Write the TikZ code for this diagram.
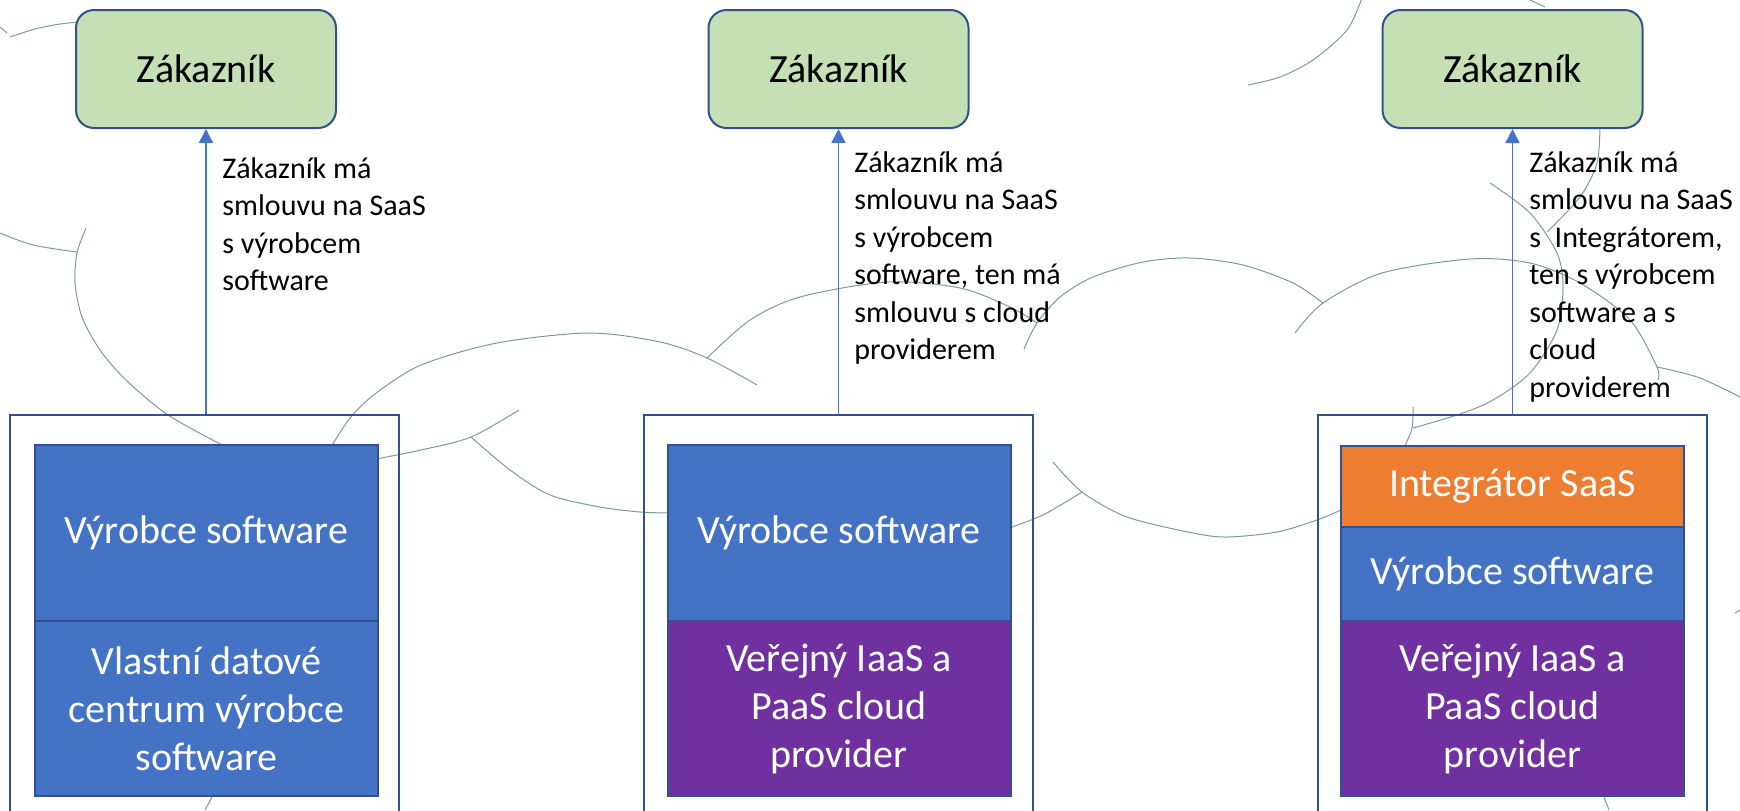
\documentclass[tikz,border=0pt]{standalone}
\usepackage{fontspec}
\setmainfont{Carlito}
\usetikzlibrary{arrows.meta}
\definecolor{custfill}{HTML}{C5E0B4}
\definecolor{edgeblue}{HTML}{2F528F}
\definecolor{accblue}{HTML}{4472C4}
\definecolor{purp}{HTML}{7030A0}
\definecolor{orng}{HTML}{ED7D31}
\definecolor{cloudc}{RGB}{120,155,160}
\begin{document}
\begin{tikzpicture}[x=0.5pt,y=-0.5pt,
  cloudline/.style={draw=cloudc, line width=0.5pt},
  cust/.style={draw=edgeblue, line width=1pt, fill=custfill, rounded corners=9pt,
    minimum width=130pt, minimum height=59pt, inner sep=0pt, font=\fontsize{20}{24}\selectfont},
  frame/.style={draw=edgeblue, line width=1pt, minimum width=194.5pt, minimum height=215pt, inner sep=0pt},
  layer/.style={draw=edgeblue, line width=1pt, text=white, inner sep=0pt, minimum width=171.5pt,
    align=center, font=\fontsize{20}{24}\selectfont},
  swbox/.style={layer, fill=accblue},
  iaasbox/.style={layer, fill=purp},
  integbox/.style={layer, fill=orng},
  link/.style={draw=accblue, line width=0.75pt, -{Triangle[length=7pt,width=7pt]}},
  lbl/.style={anchor=base west, inner sep=0pt, font=\fontsize{15}{18.75}\selectfont, text=black}
]
\useasboundingbox (0,0) rectangle (1740,810);
\clip (0,0) rectangle (1740,810);

% cloud outlines (background)
\draw[cloudline] (0,27) -- (7,33);
\draw[cloudline] plot[smooth] coordinates {(10,37) (35,29) (60,24) (80,22)};
\draw[cloudline] plot[smooth] coordinates {(0,233) (33,245) (77,252)};
\draw[cloudline] plot[smooth] coordinates {(86,228) (77,253) (75,283) (82,317) (100,350) (126,380) (168,415) (226,447)};
\draw[cloudline] plot[smooth] coordinates {(331,447) (350,418) (375,394) (421,365) (497,343) (589,333) (660,342) (707,358) (757,385)};
\draw[cloudline] plot[smooth] coordinates {(707,358) (750,320) (800,297) (887,282) (960,288) (1010,307) (1037,323)};
\draw[cloudline] plot[smooth] coordinates {(1024,349) (1037,323) (1060,297) (1093,277) (1143,262) (1190,258) (1243,265) (1293,283) (1323,303)};
\draw[cloudline] plot[smooth] coordinates {(1295,333) (1323,303) (1382,273) (1470,259) (1530,263) (1580,283) (1630,320) (1657,367) (1658,380)};
\draw[cloudline] plot[smooth] coordinates {(1657,367) (1700,378) (1750,402)};
\draw[cloudline] plot[smooth] coordinates {(1362,-2) (1347,30) (1313,60) (1280,77) (1248,85)};
\draw[cloudline] (1530,0) -- (1545,7);
\draw[cloudline] plot[smooth] coordinates {(1600,125) (1597,163) (1580,197) (1547,232)};
\draw[cloudline] plot[smooth] coordinates {(1490,183) (1530,213) (1557,253) (1563,287) (1557,330) (1530,373) (1493,400) (1460,414) (1413,428)};
\draw[cloudline] plot[smooth] coordinates {(1413,407) (1412,428) (1404,448)};
\draw[cloudline] plot[smooth] coordinates {(376,459) (421,450) (471,437) (519,410)};
\draw[cloudline] plot[smooth] coordinates {(471,437) (510,470) (550,495) (600,507) (640,512) (669,513)};
\draw[cloudline] plot[smooth] coordinates {(1053,462) (1082,492) (1127,517) (1193,533) (1227,537) (1277,532) (1317,520) (1343,509)};
\draw[cloudline] plot[smooth] coordinates {(1009,528) (1043,515) (1082,492)};
\draw[cloudline] (212,797) -- (205,810);
\draw[cloudline] (1604,797) -- (1609,810);
\draw[cloudline] (1735,613) -- (1740,610);

% outer frames
\node[frame] (f1) at (204.5,630) {};
\node[frame] (f2) at (838.5,630) {};
\node[frame] (f3) at (1512,630) {};

% column 1
\node[swbox, minimum height=88pt] (s1) at (206.5,533) {Výrobce software};
\node[swbox, minimum height=87.5pt] (d1) at (206.5,708.5) {Vlastní datové\\centrum výrobce\\software};
% column 2
\node[swbox, minimum height=88pt] (s2) at (839,533) {Výrobce software};
\node[iaasbox, minimum height=87.5pt] (p2) at (839,708.5) {Veřejný IaaS a\\PaaS cloud\\provider};
% column 3
\node[integbox, minimum height=40.5pt] (i3) at (1512.5,486.5) {Integrátor SaaS};
\node[swbox, minimum height=47pt] (s3) at (1512.5,574) {Výrobce software};
\node[iaasbox, minimum height=87.5pt] (p3) at (1512.5,708.5) {Veřejný IaaS a\\PaaS cloud\\provider};

% customers
\node[cust] (c1) at (206,69) {Zákazník};
\node[cust] (c2) at (838.5,69) {Zákazník};
\node[cust] (c3) at (1512.5,69) {Zákazník};

% connectors
\draw[link] (c1.south |- f1.north) -- (c1.south);
\draw[link] (c2.south |- f2.north) -- (c2.south);
\draw[link] (c3.south |- f3.north) -- (c3.south);

% labels
\node[lbl] (l1) at (222,178) {\vtop{\baselineskip=18.75pt\hbox{Zákazník má}\hbox{smlouvu na SaaS}\hbox{s výrobcem}\hbox{software}}};
\node[lbl] (l2) at (854,172) {\vtop{\baselineskip=18.75pt\hbox{Zákazník má}\hbox{smlouvu na SaaS}\hbox{s výrobcem}\hbox{software, ten má}\hbox{smlouvu s cloud}\hbox{providerem}}};
\node[lbl] (l3) at (1529,172) {\vtop{\baselineskip=18.75pt\hbox{Zákazník má}\hbox{smlouvu na SaaS}\hbox{s\ \ Integrátorem,}\hbox{ten s výrobcem}\hbox{software a s}\hbox{cloud}\hbox{providerem}}};
\end{tikzpicture}
\end{document}
